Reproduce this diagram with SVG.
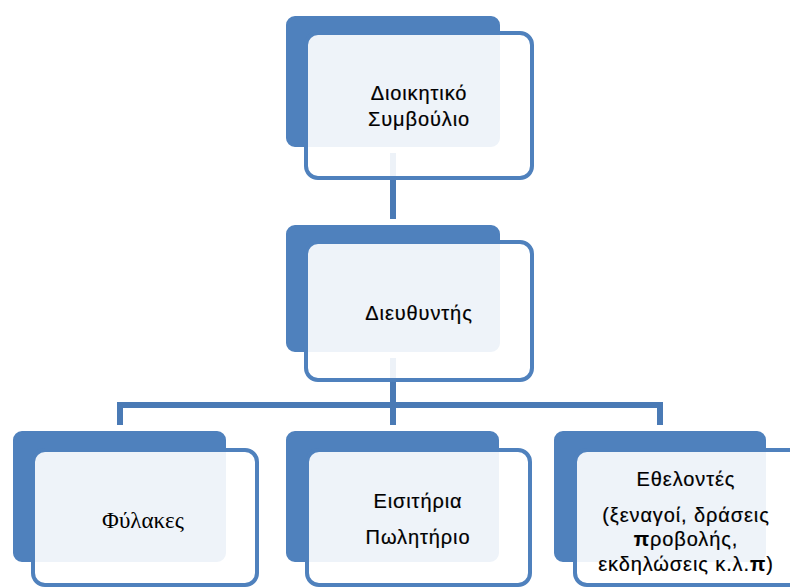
<svg xmlns="http://www.w3.org/2000/svg" width="790" height="587" viewBox="0 0 790 587">
<style>
.back{fill:#4f81bd;stroke:#ffffff;stroke-width:6}
.front{fill:#ffffff;fill-opacity:0.9;stroke:#4f81bd;stroke-width:4}
.conn{fill:none;stroke:#4a7ab5;stroke-width:6}
.t{font-family:"Liberation Sans",Arial,sans-serif;font-size:20px;fill:#000000;text-anchor:middle;letter-spacing:0.9px;stroke:#000000;stroke-width:0.2}
.s{font-family:"Liberation Serif","Times New Roman",serif;font-size:23px;fill:#000000;text-anchor:middle}
</style>
<rect width="790" height="587" fill="#ffffff"/>
<g id="connectors">
<path class="conn" d="M393 150 V222"/>
<path class="conn" d="M393 355 V428"/>
<path class="conn" d="M120 428 V405 H660 V428"/>
</g>
<g id="node-board">
<rect class="back" x="283" y="13" width="220" height="137" rx="12"/>
<rect class="front" x="306" y="33" width="226" height="145" rx="12"/>
<text class="t" x="419" y="100">Διοικητικό</text>
<text class="t" x="419" y="126">Συμβούλιο</text>
</g>
<g id="node-director">
<rect class="back" x="283" y="222" width="220" height="133" rx="12"/>
<rect class="front" x="306" y="242" width="226" height="138" rx="12"/>
<text class="t" x="419" y="320">Διευθυντής</text>
</g>
<g id="node-guards">
<rect class="back" x="10" y="428" width="219" height="137" rx="12"/>
<rect class="front" x="33" y="450" width="224" height="135" rx="12"/>
<text class="s" x="143" y="528">Φύλακες</text>
</g>
<g id="node-tickets">
<rect class="back" x="283" y="428" width="219" height="137" rx="12"/>
<rect class="front" x="307" y="450" width="223" height="135" rx="12"/>
<text class="t" x="418" y="508">Εισιτήρια</text>
<text class="t" x="418" y="544">Πωλητήριο</text>
</g>
<g id="node-volunteers">
<rect class="back" x="551" y="428" width="218" height="137" rx="12"/>
<rect class="front" x="575" y="450" width="230" height="135" rx="12"/>
<text class="t" x="686" y="486">Εθελοντές</text>
<text class="t" x="686" y="522">(ξεναγοί, δράσεις</text>
<text class="t" x="686" y="546"><tspan font-weight="bold">π</tspan>ροβολής,</text>
<text class="t" x="686" y="571">εκδηλώσεις κ.λ.<tspan font-weight="bold">π</tspan>)</text>
</g>
</svg>
